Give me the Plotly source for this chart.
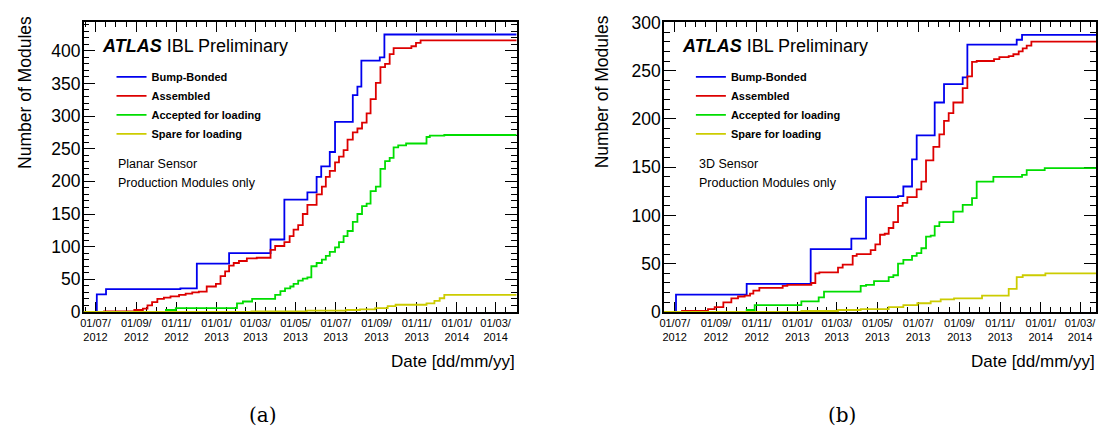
import plotly.graph_objects as go
import pandas as pd

# ---------------- data ----------------
series_names = ["Bump-Bonded", "Assembled", "Accepted for loading", "Spare for loading"]
series_colors = ["#0000ee", "#dd0000", "#00dd00", "#cccc00"]

# Planar sensor panel
planar_range = ["2012-06-13", "2014-04-02"]
planar_bb_dates = ["2012-07-03", "2012-07-17", "2012-11-07", "2012-12-02", "2013-01-20", "2013-03-24",
                   "2013-04-14", "2013-05-19", "2013-06-02", "2013-06-09", "2013-06-22", "2013-06-30",
                   "2013-07-27", "2013-08-03", "2013-08-09", "2013-09-06", "2013-09-13"]
planar_bb_vals = [27, 35, 36, 74, 90, 111, 172, 183, 207, 223, 245, 291, 332, 345, 385, 390, 425]

planar_asm_dates = ["2012-07-14", "2012-08-29", "2012-09-11", "2012-09-18", "2012-09-25", "2012-10-03",
                    "2012-10-13", "2012-10-23", "2012-11-05", "2012-11-15", "2012-11-25", "2012-12-05",
                    "2012-12-17", "2012-12-31", "2013-01-07", "2013-01-14", "2013-01-20", "2013-01-27",
                    "2013-02-04", "2013-02-16", "2013-03-03", "2013-03-24", "2013-03-31", "2013-04-14",
                    "2013-04-22", "2013-04-28", "2013-05-05", "2013-05-12", "2013-05-19", "2013-06-02",
                    "2013-06-10", "2013-06-16", "2013-06-22", "2013-06-30", "2013-07-06", "2013-07-13",
                    "2013-07-19", "2013-07-27", "2013-08-03", "2013-08-10", "2013-08-17", "2013-08-23",
                    "2013-08-31", "2013-09-07", "2013-09-14", "2013-09-21", "2013-09-27", "2013-10-24",
                    "2013-10-31", "2013-11-07"]
planar_asm_vals = [1, 3, 5, 10, 15, 20, 22, 24, 26, 28, 30, 31, 39, 43, 55, 62, 71, 75, 78, 82, 83, 95,
                   101, 107, 116, 126, 133, 150, 164, 180, 192, 207, 216, 229, 238, 248, 264, 275, 281,
                   290, 304, 326, 351, 375, 380, 395, 404, 407, 412, 416]

planar_acc_dates = ["2012-10-16", "2012-10-31", "2013-02-01", "2013-02-10", "2013-02-24", "2013-03-31",
                    "2013-04-08", "2013-04-15", "2013-04-23", "2013-04-28", "2013-05-05", "2013-05-12",
                    "2013-05-19", "2013-05-25", "2013-06-02", "2013-06-10", "2013-06-16", "2013-06-22",
                    "2013-06-30", "2013-07-06", "2013-07-13", "2013-07-19", "2013-07-27", "2013-08-03",
                    "2013-08-10", "2013-08-17", "2013-08-23", "2013-08-31", "2013-09-07", "2013-09-14",
                    "2013-09-21", "2013-09-27", "2013-10-04", "2013-10-16", "2013-11-16", "2013-11-21",
                    "2013-12-13"]
planar_acc_vals = [3, 6, 13, 16, 20, 26, 32, 36, 39, 43, 48, 51, 53, 70, 75, 80, 86, 92, 99, 107, 116,
                   124, 138, 150, 162, 166, 185, 192, 219, 231, 236, 252, 255, 258, 268, 270, 271]

planar_spare_dates = ["2013-02-23", "2013-05-18", "2013-07-17", "2013-08-07", "2013-08-30", "2013-09-18",
                      "2013-09-30", "2013-11-16", "2013-11-28", "2013-12-06", "2013-12-13"]
planar_spare_vals = [1, 2, 3, 4, 6, 9, 11, 13, 17, 21, 26]

# 3D sensor panel
td_range = ["2012-06-15", "2014-03-25"]
td_bb_dates = ["2012-07-03", "2012-10-17", "2013-01-21", "2013-03-23", "2013-04-14", "2013-06-01",
               "2013-06-09", "2013-06-22", "2013-06-29", "2013-07-26", "2013-08-09", "2013-09-06",
               "2013-09-13", "2013-11-26", "2013-12-04"]
td_bb_vals = [18, 29, 65, 76, 119, 120, 130, 158, 183, 217, 236, 243, 277, 282, 287]

td_asm_dates = ["2012-07-12", "2012-08-20", "2012-08-30", "2012-09-12", "2012-09-24", "2012-10-04",
                "2012-10-14", "2012-10-22", "2012-10-27", "2012-11-05", "2012-12-10", "2012-12-17",
                "2013-01-22", "2013-01-28", "2013-02-03", "2013-03-03", "2013-03-10", "2013-03-25",
                "2013-03-31", "2013-04-21", "2013-04-28", "2013-05-05", "2013-05-12", "2013-05-18",
                "2013-05-25", "2013-06-01", "2013-06-08", "2013-06-15", "2013-06-29", "2013-07-06",
                "2013-07-13", "2013-07-24", "2013-08-02", "2013-08-09", "2013-08-16", "2013-08-23",
                "2013-09-06", "2013-09-13", "2013-09-20", "2013-09-27", "2013-10-23", "2013-10-31",
                "2013-11-14", "2013-11-21", "2013-11-29", "2013-12-05", "2013-12-11", "2013-12-18"]
td_asm_vals = [1, 3, 5, 10, 14, 16, 17, 19, 22, 25, 27, 28, 30, 40, 41, 46, 49, 58, 60, 64, 70, 80, 81,
               87, 93, 110, 113, 119, 127, 135, 157, 171, 184, 198, 206, 217, 232, 244, 259, 260, 262,
               264, 265, 267, 270, 273, 276, 280]

td_acc_dates = ["2012-10-17", "2012-10-29", "2013-01-07", "2013-02-02", "2013-02-10", "2013-04-06",
                "2013-04-14", "2013-04-26", "2013-05-18", "2013-05-25", "2013-06-01", "2013-06-09",
                "2013-06-22", "2013-06-29", "2013-07-06", "2013-07-13", "2013-07-20", "2013-07-26",
                "2013-08-02", "2013-08-23", "2013-09-06", "2013-09-20", "2013-09-27", "2013-10-22",
                "2013-12-04", "2013-12-11", "2014-01-07"]
td_acc_vals = [2, 7, 11, 15, 21, 27, 28, 32, 36, 38, 50, 54, 58, 61, 66, 78, 79, 89, 93, 104, 111, 118,
               135, 140, 142, 147, 149]

td_spare_dates = ["2013-01-07", "2013-03-03", "2013-04-06", "2013-05-18", "2013-06-09", "2013-06-30",
                  "2013-07-20", "2013-08-04", "2013-08-24", "2013-10-05", "2013-11-14", "2013-11-26",
                  "2013-12-05", "2014-01-08"]
td_spare_vals = [1, 2, 3, 5, 7, 9, 11, 13, 14, 17, 24, 36, 38, 40]

planar_ymax = 443.5
td_ymax = 300

tick_start, tick_end = "2012-07-01", "2014-03-01"

# ---------------- figure ----------------
W, H = 1105, 435
FONT = "Liberation Sans"


def pxx(x):
    return x / W


def pxy(y):
    return 1 - y / H


fig = go.Figure()

panels = [
    dict(xa="x", ya="y", legend="legend", rng=planar_range,
         series=[(planar_bb_dates, planar_bb_vals), (planar_asm_dates, planar_asm_vals),
                 (planar_acc_dates, planar_acc_vals), (planar_spare_dates, planar_spare_vals)]),
    dict(xa="x2", ya="y2", legend="legend2", rng=td_range,
         series=[(td_bb_dates, td_bb_vals), (td_asm_dates, td_asm_vals),
                 (td_acc_dates, td_acc_vals), (td_spare_dates, td_spare_vals)]),
]

for p in panels:
    for name, color, (d, v) in zip(series_names, series_colors, p["series"]):
        xs = [p["rng"][0]] + list(d) + [p["rng"][1]]
        ys = [0] + list(v) + [v[-1]]
        fig.add_trace(go.Scatter(
            x=xs, y=ys, mode="lines", name=name, line=dict(color=color, width=1.8, shape="hv"),
            xaxis=p["xa"], yaxis=p["ya"], legend=p["legend"], hoverinfo="skip"))

# date ticks
majors = list(pd.date_range(tick_start, tick_end, freq="2MS"))
ticktext = [t.strftime("%d/%m/<br>%Y") for t in majors]
minors = []
for a, b in zip(majors[:-1], majors[1:]):
    for k in (1, 2, 3):
        minors.append(a + (b - a) * k / 4)
step = (majors[1] - majors[0]) / 4
minors.append(majors[0] - step)
for k in (1, 2):
    minors.append(majors[-1] + step * k)

common_x = dict(
    type="date", showgrid=False, zeroline=False, showline=True, linecolor="black", linewidth=1.5,
    mirror="ticks", ticks="inside", ticklen=10, tickwidth=1, tickcolor="black",
    tickmode="array", tickvals=majors, ticktext=ticktext,
    tickfont=dict(family=FONT, size=11, color="black"),
    minor=dict(tickmode="array", tickvals=minors, ticks="inside", ticklen=5, tickcolor="black", tickwidth=1),
    layer="below traces",
)
common_y = dict(
    showgrid=False, zeroline=False, showline=True, linecolor="black", linewidth=1.5,
    mirror="ticks", ticks="inside", ticklen=12, tickwidth=1, tickcolor="black",
    tick0=0, dtick=50, tickfont=dict(family=FONT, size=17.5, color="black"),
    ticklabelstandoff=-2,
    minor=dict(dtick=10, ticks="inside", ticklen=6, tickcolor="black", tickwidth=1),
    layer="below traces",
)

y_dom = [pxy(316.5), pxy(13)]
legend_style = dict(xanchor="left", yanchor="top", bgcolor="rgba(0,0,0,0)",
                    font=dict(family=FONT, size=11, color="black", weight="bold"), itemwidth=30)
fig.update_layout(
    width=W, height=H, margin=dict(l=0, r=0, t=0, b=0),
    paper_bgcolor="white", plot_bgcolor="white",
    font=dict(family=FONT, color="black"),
    xaxis=dict(common_x, domain=[pxx(79), pxx(514)], range=planar_range, anchor="y"),
    yaxis=dict(common_y, domain=y_dom, range=[0, planar_ymax], anchor="x"),
    xaxis2=dict(common_x, domain=[pxx(662), pxx(1096)], range=td_range, anchor="y2"),
    yaxis2=dict(common_y, domain=y_dom, range=[0, td_ymax], anchor="x2"),
    legend=dict(legend_style, x=pxx(107), y=pxy(55)),
    legend2=dict(legend_style, x=pxx(689), y=pxy(55)),
    showlegend=True,
)

ann = []


def text(x, y, s, size, xanchor="left", angle=0, family=FONT):
    ann.append(dict(x=pxx(x), y=pxy(y), xref="paper", yref="paper", text=s, showarrow=False,
                    xanchor=xanchor, yanchor="middle", textangle=angle,
                    font=dict(family=family, size=size, color="black")))


for x0, sensor, ytitle_x, xtitle_x, cap_x, cap in [(95, "Planar Sensor", 20, 450, 259, "(a)"),
                                                    (678, "3D Sensor", 600, 1033, 841, "(b)")]:
    text(x0, 38, "<b><i>ATLAS</i></b> IBL Preliminary", 18)
    text(x0 + 17, 161, sensor, 12.5)
    text(x0 + 17, 181, "Production Modules only", 12.5)
    text(ytitle_x, 86, "Number of Modules", 17.5, xanchor="center", angle=-90)
    text(xtitle_x, 368, "Date [dd/mm/yy]", 17, xanchor="center")
    text(cap_x, 425, cap, 20, xanchor="center", family="DejaVu Serif")

fig.update_layout(annotations=ann)
fig.write_html("out.html")
